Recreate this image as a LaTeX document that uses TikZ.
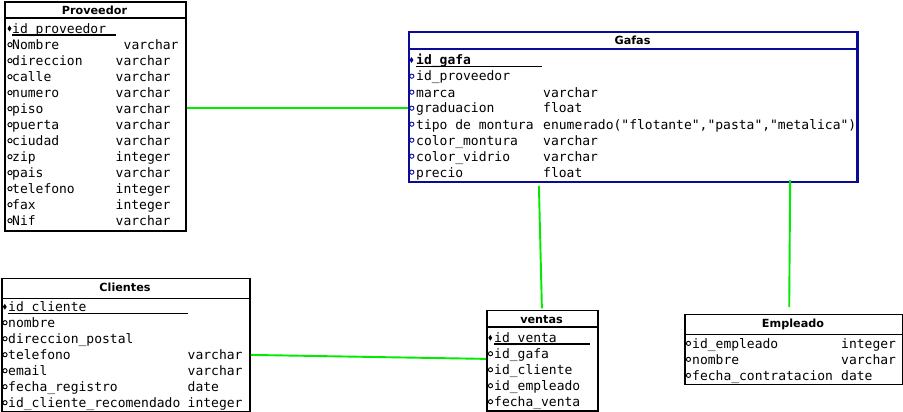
\documentclass[tikz,border=0pt]{standalone}
\usepackage{fontspec}
\usetikzlibrary{shapes.geometric}
\newfontfamily\monofnt{DejaVu Sans Mono}
\newfontfamily\hdrfnt{DejaVu Sans}
\definecolor{lgreen}{RGB}{0,235,0}
\definecolor{gblue}{RGB}{10,10,150}
\newcommand{\fldfont}{\monofnt\fontsize{13}{16}\selectfont}
\newcommand{\hdrfont}{\hdrfnt\bfseries\fontsize{11.2}{13}\selectfont}
\tikzset{
  tbox/.style={draw, line width=1.8pt, inner sep=0pt, anchor=north west},
  fld/.style={anchor=base west, inner sep=0pt, font=\fldfont},
  hdr/.style={anchor=base, inner sep=0pt, font=\hdrfont},
  fkmark/.style={circle, draw, line width=0.9pt, inner sep=0pt, minimum size=4.2pt},
  pkmark/.style={diamond, fill, inner sep=0pt, minimum width=4pt, minimum height=6pt},
  uline/.style={line width=1.1pt},
  sepline/.style={line width=1.8pt},
  link/.style={draw=lgreen, line width=1.9pt}
}
\begin{document}
\begin{tikzpicture}[x=1pt,y=-1pt]
\useasboundingbox (0,0) rectangle (903,412);
\fill[white] (0,0) rectangle (903,412);

% ---------------- Proveedor ----------------
\node[tbox, minimum width=181pt, minimum height=229pt] (prov) at (4,1) {};
\draw[sepline] (4,18) -- (185,18);
\node[hdr] (provh) at (94.5,14.5) {Proveedor};
\node[pkmark] (provpk) at (9.5,28.5) {};
\node[fld] (provk) at (12,33.5) {id\_proveedor};
\draw[uline] (12,35) -- (115.5,35);
\node[fkmark] (provm1) at (10,44.7) {};
\node[fld] (provn1) at (12,49.5) {Nombre};
\node[fld] (provt1) at (123.5,49.5) {varchar};
\foreach \n/\t [count=\i from 2] in {direccion/varchar, calle/varchar, numero/varchar, piso/varchar, puerta/varchar, ciudad/varchar, zip/integer, pais/varchar, telefono/integer, fax/integer, Nif/varchar}{
  \node[fkmark] (provm\i) at (10,{44.7+16*(\i-1)}) {};
  \node[fld] (provn\i) at (12,{49.5+16*(\i-1)}) {\n};
  \node[fld] (provt\i) at (115.5,{49.5+16*(\i-1)}) {\t};
}

% ---------------- Gafas ----------------
\node[tbox, draw=gblue, minimum width=449pt, minimum height=150pt] (gafas) at (408,31) {};
\draw[sepline, gblue] (408,49) -- (857,49);
\node[hdr] (gafash) at (632.5,44.3) {Gafas};
\node[pkmark, gblue] (gafaspk) at (411.5,60) {};
\node[fld, font=\fldfont\bfseries] (gafask) at (416,65) {id\_gafa};
\draw[uline] (416,66.8) -- (542,66.8);
\node[fkmark, gblue] (gafasm1) at (411.8,76.2) {};
\node[fld] (gafasn1) at (416,81) {id\_proveedor};
\foreach \n/\t [count=\i from 2] in {marca/varchar, graduacion/float, tipo de montura/{enumerado("flotante","pasta","metalica")}, color\_montura/varchar, color\_vidrio/varchar, precio/float}{
  \node[fkmark, gblue] (gafasm\i) at (411.8,{76.2+16*(\i-1)}) {};
  \node[fld] (gafasn\i) at (416,{81+16*(\i-1)}) {\n};
  \node[fld] (gafast\i) at (543,{81+16*(\i-1)}) {\t};
}
% redraw right border over the overflowing text
\draw[gblue, line width=1.8pt] (857,31) -- (857,181);

% ---------------- Clientes ----------------
\node[tbox, minimum width=248pt, minimum height=133.5pt] (cli) at (1,277.5) {};
\draw[sepline] (1,298.5) -- (249,298.5);
\node[hdr] (clih) at (125,291.7) {Clientes};
\node[pkmark] (clipk) at (4.8,306.8) {};
\node[fld] (clik) at (8,311.5) {id\_cliente};
\draw[uline] (8,313.3) -- (188,313.3);
\foreach \n/\t [count=\i] in {nombre/{}, direccion\_postal/{}, telefono/varchar, email/varchar, fecha\_registro/date, id\_cliente\_recomendado/integer}{
  \node[fkmark] (clim\i) at (5,{322.7+16*(\i-1)}) {};
  \node[fld] (clin\i) at (8,{327.5+16*(\i-1)}) {\n};
  \node[fld] (clit\i) at (187.5,{327.5+16*(\i-1)}) {\t};
}

% ---------------- ventas ----------------
\node[tbox, minimum width=111pt, minimum height=100.5pt] (ventas) at (486,309.5) {};
\draw[sepline] (486,327) -- (597,327);
\node[hdr] (ventash) at (541.5,323.3) {ventas};
\node[pkmark] (ventaspk) at (490.3,337.8) {};
\node[fld] (ventask) at (494,342.5) {id\_venta};
\draw[uline] (494,344) -- (590,344);
\foreach \n [count=\i] in {id\_gafa, id\_cliente, id\_empleado, fecha\_venta}{
  \node[fkmark] (ventasm\i) at (490.5,{353.7+16*(\i-1)}) {};
  \node[fld] (ventasn\i) at (494,{358.5+16*(\i-1)}) {\n};
}

% ---------------- Empleado ----------------
\node[tbox, minimum width=218pt, minimum height=70pt] (emp) at (684,313.5) {};
\draw[sepline] (684,334.5) -- (902,334.5);
\node[hdr] (emph) at (793,327.8) {Empleado};
\foreach \n/\t [count=\i] in {id\_empleado/integer, nombre/varchar, fecha\_contratacion/date}{
  \node[fkmark] (empm\i) at (688.5,{343.4+16*(\i-1)}) {};
  \node[fld] (empn\i) at (692,{348.2+16*(\i-1)}) {\n};
  \node[fld] (empt\i) at (841,{348.2+16*(\i-1)}) {\t};
}

% ---------------- connectors ----------------
\coordinate (r1) at (0,108);
\draw[link] (prov.east |- r1) -- (gafas.west |- r1);
\draw[link] ([xshift=-94.5pt,yshift=-3pt]gafas.south) -- ([xshift=-0.5pt,yshift=1.2pt]ventas.north);
\draw[link] ([xshift=156.8pt,yshift=3pt]gafas.south) -- ([xshift=-4.7pt,yshift=6.5pt]emp.north);
\draw[link] ([yshift=-9.75pt]cli.east) -- ([yshift=1.75pt]ventas.west);
\end{tikzpicture}
\end{document}
